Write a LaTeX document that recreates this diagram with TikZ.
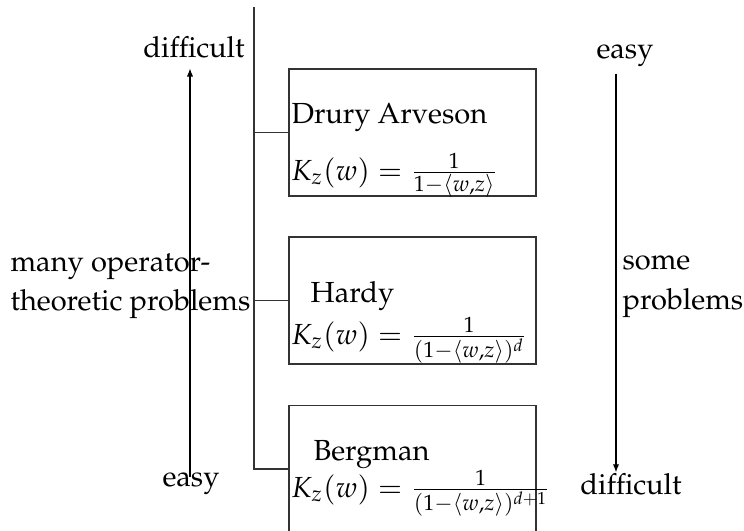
\documentclass[tikz,border=0pt]{standalone}
\usepackage[T1]{fontenc}
\usepackage{mathpazo}
\usetikzlibrary{positioning,arrows.meta}
\begin{document}
\begin{tikzpicture}[x=0.0121cm,y=-0.0121cm,
  kb/.style={draw=black!80,line width=0.45pt,minimum width=2.99cm,minimum height=1.54cm,inner sep=0pt},
  nm/.style={inner sep=0pt,anchor=base west},
  lbl/.style={inner sep=1pt,anchor=base},
  ln/.style={draw=black!80,line width=0.45pt},
  arr/.style={-{Latex[length=2.8pt,width=2.2pt]},line width=0.45pt}]
\useasboundingbox (0,0) rectangle (744,530);
% kernel boxes
\node[kb] (da) at (412.5,132.5) {};
\node[kb] (hd) at (412.5,300.5) {};
\node[kb] (bg) at (412.5,469) {};
\node[nm] (daname) at (291,123) {Drury Arveson};
\node[nm] (dak) at (291,180) {$K_z(w) = \frac{1}{1-\langle w,z\rangle}$};
\node[nm] (hdname) at (310,302) {Hardy};
\node[nm] (hdk) at (291,344) {$K_z(w) = \frac{1}{(1-\langle w,z\rangle)^d}$};
\node[nm] (bgname) at (313,460) {Bergman};
\node[nm] (bgk) at (291,497) {$K_z(w) = \frac{1}{(1-\langle w,z\rangle)^{d+1}}$};
% tree
\coordinate (root) at (254,7);
\draw[ln] (root) |- (bg.west);
\draw[ln] (root |- da.west) -- (da.west);
\draw[ln] (root |- hd.west) -- (hd.west);
% left scale
\coordinate (arrL) at (190,0);
\node[lbl] (diffL) at (194,57) {difficult};
\node[lbl] (easyL) at (191,486) {easy};
\node[nm,align=left,anchor=north west] (manyop) at (10,253) {many operator-\\[1.6pt]theoretic problems};
\draw[arr] ([yshift=-3pt]easyL.north -| arrL) -- ([yshift=-2.5pt]diffL.south -| arrL);
% right scale
\coordinate (arrR) at (616,0);
\node[lbl] (easyR) at (625,58) {easy};
\node[lbl] (diffR) at (631,494) {difficult};
\node[nm,align=left,anchor=north west] (someprob) at (622,255) {some\\[1.6pt]problems};
\draw[arr] (easyR.south -| arrR) ++(0,4) -- ([yshift=-1pt]diffR.north -| arrR);
\end{tikzpicture}
\end{document}
